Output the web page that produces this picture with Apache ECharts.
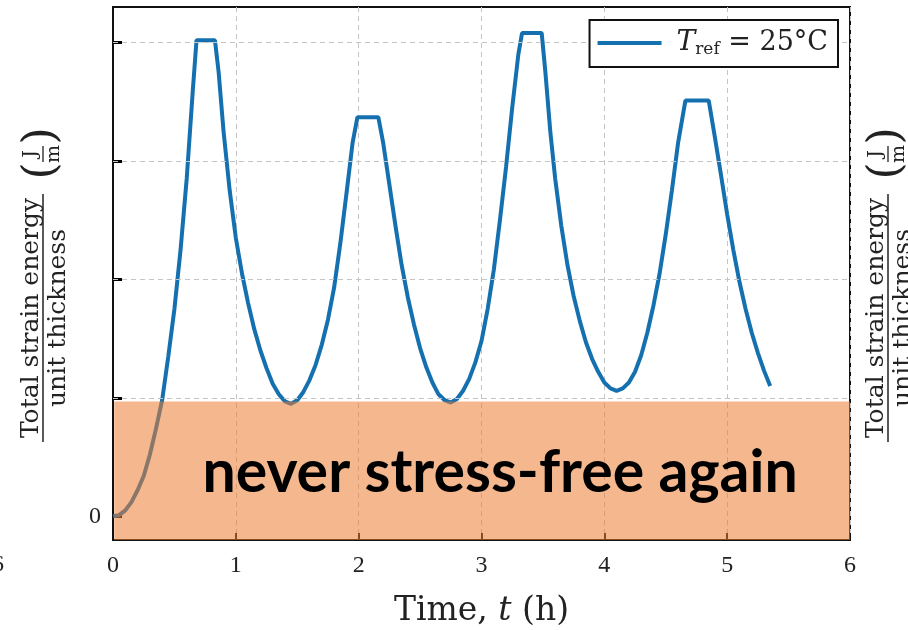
<!DOCTYPE html>
<html>
<head>
<meta charset="utf-8">
<script src="https://cdn.jsdelivr.net/npm/echarts@6/dist/echarts.min.js"></script>
<style>
  html, body { margin: 0; padding: 0; background: #fff; }
  #chart { width: 908px; height: 630px; }
</style>
</head>
<body>
<div id="chart"></div>
<script>
// time (h) and strain energy (arbitrary, 0 at the bottom tick)
const time = [
  0, 0.05, 0.1, 0.15, 0.2, 0.25, 0.3, 0.35, 0.4, 0.45, 0.5, 0.55, 0.6, 0.65, 0.68,
  0.83, 0.86, 0.9, 0.95, 1.0, 1.05, 1.1, 1.15, 1.2, 1.25, 1.3, 1.35, 1.4, 1.45, 1.5,
  1.55, 1.6, 1.65, 1.7, 1.75, 1.8, 1.85, 1.9, 1.95, 1.99,
  2.16, 2.2, 2.25, 2.3, 2.35, 2.4, 2.45, 2.5, 2.55, 2.6, 2.65, 2.7, 2.75, 2.8,
  2.85, 2.9, 2.95, 3.0, 3.05, 3.1, 3.15, 3.2, 3.25, 3.3, 3.33,
  3.49, 3.52, 3.56, 3.6, 3.65, 3.7, 3.75, 3.8, 3.85, 3.9, 3.95, 4.0, 4.05, 4.1, 4.15,
  4.2, 4.25, 4.3, 4.35, 4.4, 4.45, 4.5, 4.55, 4.6, 4.66,
  4.85, 4.9, 4.95, 5.0, 5.05, 5.1, 5.15, 5.2, 5.25, 5.3, 5.35
]
const energy = [
  0, 0.01, 0.05, 0.12, 0.22, 0.34, 0.52, 0.74, 0.98, 1.35, 1.75, 2.25, 2.85, 3.6, 4.02,
  4.02, 3.75, 3.25, 2.75, 2.35, 2.05, 1.8, 1.58, 1.4, 1.25, 1.12, 1.03, 0.97, 0.95, 0.98,
  1.05, 1.15, 1.28, 1.45, 1.66, 1.93, 2.3, 2.72, 3.15, 3.37,
  3.37, 3.15, 2.8, 2.45, 2.12, 1.85, 1.62, 1.42, 1.26, 1.13, 1.03, 0.98, 0.96, 0.99,
  1.06, 1.16, 1.3, 1.48, 1.75, 2.08, 2.5, 2.95, 3.45, 3.9, 4.08,
  4.08, 3.75, 3.25, 2.85, 2.45, 2.12, 1.86, 1.65, 1.47, 1.33, 1.22, 1.13, 1.08, 1.06, 1.08,
  1.13, 1.22, 1.36, 1.55, 1.78, 2.05, 2.38, 2.75, 3.15, 3.51,
  3.51, 3.2, 2.88, 2.55, 2.25, 1.98, 1.75, 1.55, 1.38, 1.23, 1.1
]
const yTicks = [0, 1, 2, 3, 4]
const yLabelTicks = [0]
const stressFreeLevel = 0.97

const serif = '"DejaVu Serif", "Liberation Serif", serif'
const digits = '"Liberation Serif", serif'
const blue = '#1570b0'

// rotated fraction label "Total strain energy / unit thickness (J/m)"
const fractionLabel = (x, y) => ({
  type: 'group',
  x, y,
  rotation: Math.PI / 2,
  children: [
    { type: 'text', x: 0, y: -12, style: { text: 'Total strain energy', font: '25px ' + serif, fill: '#222', align: 'center', verticalAlign: 'middle' } },
    { type: 'line', shape: { x1: -124, y1: 0, x2: 124, y2: 0 }, style: { stroke: '#222', lineWidth: 1.5 } },
    { type: 'text', x: 0, y: 15, style: { text: 'unit thickness', font: '25px ' + serif, fill: '#222', align: 'center', verticalAlign: 'middle' } },
    { type: 'text', x: 147, y: 0, style: { text: '(', font: '44px ' + serif, fill: '#222', align: 'center', verticalAlign: 'middle' } },
    { type: 'text', x: 164, y: -12, style: { text: 'J', font: '19px ' + serif, fill: '#222', align: 'center', verticalAlign: 'middle' } },
    { type: 'line', shape: { x1: 156, y1: 0, x2: 172, y2: 0 }, style: { stroke: '#222', lineWidth: 1.3 } },
    { type: 'text', x: 164, y: 11, style: { text: 'm', font: '19px ' + serif, fill: '#222', align: 'center', verticalAlign: 'middle' } },
    { type: 'text', x: 182, y: 0, style: { text: ')', font: '44px ' + serif, fill: '#222', align: 'center', verticalAlign: 'middle' } }
  ]
})

const chart = echarts.init(document.getElementById('chart'))

chart.setOption({
  animation: false,
  grid: {
    left: 113, right: 58, top: 7, bottom: 90,
    outerBoundsMode: 'none',
    containLabel: false,
    show: true, borderColor: '#111', borderWidth: 2, backgroundColor: 'transparent'
  },
  legend: {
    right: 70, top: 20,
    z: 20,
    data: ['T_ref'],
    icon: 'rect',
    itemWidth: 64, itemHeight: 4,
    itemStyle: { color: blue, borderWidth: 0 },
    padding: [9, 10, 9, 8],
    borderColor: '#111', borderWidth: 2, borderRadius: 0,
    backgroundColor: '#fff',
    formatter: () => '{i|T}{s|ref}{a| = 25°C}',
    textStyle: {
      padding: [0, 0, 0, 10],
      rich: {
        i: { fontFamily: serif, fontStyle: 'italic', fontSize: 28, color: '#222' },
        s: { fontFamily: serif, fontSize: 17, color: '#222', padding: [13, 0, 0, 0] },
        a: { fontFamily: serif, fontSize: 27, color: '#222' }
      }
    }
  },
  xAxis: {
    type: 'value',
    min: 0, max: 6, interval: 1,
    name: '{a|Time, }{i|t}{a| (h)}',
    nameLocation: 'middle',
    nameGap: 55,
    nameTextStyle: {
      rich: {
        a: { fontFamily: serif, fontSize: 33, color: '#222' },
        i: { fontFamily: serif, fontStyle: 'italic', fontSize: 33, color: '#222' }
      }
    },
    axisLine: { onZero: false, lineStyle: { color: '#111', width: 2 } },
    axisTick: { inside: true, length: 7, lineStyle: { color: '#111', width: 2 } },
    axisLabel: { fontFamily: digits, fontSize: 24, color: '#222', margin: 14 },
    splitLine: { show: true, lineStyle: { color: '#c4c4c4', type: [5, 4], width: 1 } }
  },
  yAxis: {
    type: 'value',
    min: -0.2, max: 4.3,
    axisLine: { show: true, lineStyle: { color: '#111', width: 2 } },
    axisTick: { inside: true, length: 9, customValues: yTicks, lineStyle: { color: '#000', width: 3 } },
    axisLabel: { customValues: yLabelTicks, fontFamily: digits, fontSize: 24, color: '#222', margin: 12 },
    splitLine: { show: false }
  },
  graphic: [
    fractionLabel(43, 318),
    fractionLabel(888, 318),
    { type: 'text', x: -8, y: 565, style: { text: '6', font: '24px ' + digits, fill: '#222', verticalAlign: 'middle' } }
  ],
  series: [
    {
      name: 'T_ref',
      type: 'line',
      data: time.map((t, i) => [t, energy[i]]),
      showSymbol: false,
      lineStyle: { color: blue, width: 4 },
      itemStyle: { color: blue },
      z: 3,
      markLine: {
        silent: true,
        symbol: 'none',
        label: { show: false },
        lineStyle: { color: '#c4c4c4', type: [5, 4], width: 1 },
        data: yTicks.filter(v => v > 0).map(v => ({ yAxis: v }))
      },
      markArea: {
        silent: true,
        z: 10,
        itemStyle: { color: 'rgba(237,125,49,0.55)' },
        label: {
          show: true,
          position: 'inside',
          offset: [18, 2],
          formatter: 'never stress-free again',
          fontFamily: 'Lato, "Open Sans", sans-serif',
          fontWeight: 'bold',
          fontSize: 59,
          color: '#000'
        },
        data: [[{ xAxis: 0.01, yAxis: -0.2 }, { xAxis: 6, yAxis: stressFreeLevel }]]
      }
    }
  ]
})
</script>
</body>
</html>
